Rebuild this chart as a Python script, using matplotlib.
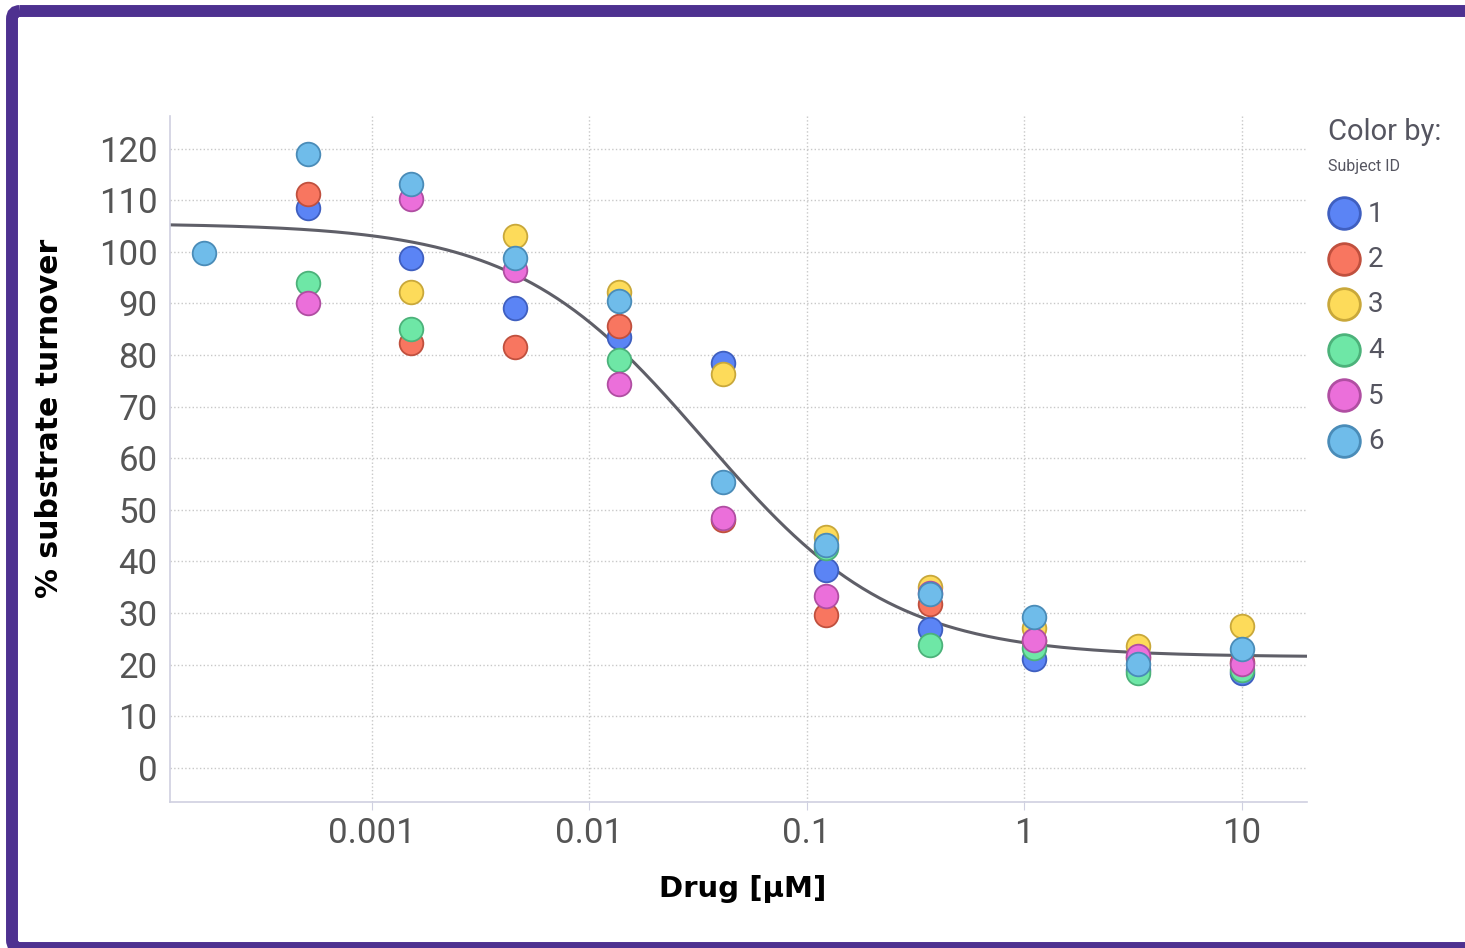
import numpy as np
import matplotlib.pyplot as plt
from matplotlib.patches import FancyBboxPatch

# drug concentrations (uM), 3-fold dilution series
conc = [0.000169, 0.000508, 0.00152, 0.00457, 0.0137, 0.0412, 0.123, 0.370, 1.11, 3.33, 10.0]

# % substrate turnover per subject (nan = not shown)
nan = np.nan
subj1 = [nan, 108.4, 98.7, 89.2, 83.4, 78.5, 38.4, 27.0, 21.1, 19.0, 18.4]
subj2 = [nan, 111.2, 82.4, 81.6, 85.7, 48.1, 29.7, 31.8, 24.5, 21.3, 20.5]
subj3 = [nan, nan, 92.2, 103.0, 92.2, 76.4, 44.8, 35.1, 27.1, 23.6, 27.5]
subj4 = [nan, 94.0, 85.1, nan, 79.0, nan, 42.7, 23.8, 23.3, 18.4, 19.0]
subj5 = [nan, 90.0, 110.3, 96.5, 74.4, 48.5, 33.4, 33.9, 24.8, 21.6, 20.2]
subj6 = [99.8, 119.0, 113.2, 98.8, 90.4, 55.3, 43.2, 33.7, 29.3, 20.2, 23.1]

subject_ids = ['1', '2', '3', '4', '5', '6']
fills = ['#5b84f5', '#f87660', '#fddb5a', '#6ee7a6', '#eb6fda', '#6fbcea']
edges = ['#3f5fc0', '#c0503e', '#c9a83a', '#4cb27a', '#b04ea2', '#4a8cb8']

# 4-parameter logistic fit
top, bottom, ic50, hill = 105.5, 21.5, 0.034, 1.0

fig = plt.figure(figsize=(14.65, 9.48), dpi=100)
W, H = 1465, 948
ax = fig.add_axes([170 / W, 1 - 802 / H, (1307 - 170) / W, (802 - 116) / H])

xs = np.logspace(np.log10(0.000118), np.log10(20), 400)
ys = bottom + (top - bottom) / (1 + (xs / ic50) ** hill)
ax.plot(xs, ys, color='#5f5f68', lw=2.2, zorder=2)

for vals, fc, ec in zip([subj1, subj2, subj3, subj4, subj5, subj6], fills, edges):
    ax.scatter(conc, vals, s=290, c=fc, edgecolors=ec, linewidths=1.3, zorder=3)

ax.set_xscale('log')
ax.set_xlim(0.000118, 20)
ax.set_ylim(-6.6, 126.3)
ax.set_xticks([0.001, 0.01, 0.1, 1, 10], ['0.001', '0.01', '0.1', '1', '10'])
ax.xaxis.set_minor_locator(plt.NullLocator())
ax.set_yticks(range(0, 121, 10))
ax.grid(True, color='#c8c8c8', ls=':', lw=1)
ax.set_axisbelow(True)
for s in ['top', 'right']:
    ax.spines[s].set_visible(False)
for s in ['left', 'bottom']:
    ax.spines[s].set_color('#cfd0e0')
    ax.spines[s].set_linewidth(1.2)
ax.tick_params(axis='x', length=6, color='#cfd0e0', labelsize=25, labelcolor='#555555', pad=5)
ax.tick_params(axis='y', length=0, labelsize=25, labelcolor='#555555', pad=9)
for lab in ax.get_xticklabels() + ax.get_yticklabels():
    lab.set_family('Roboto')

ax.set_xlabel('Drug [μM]', fontsize=21, fontweight='bold')
ax.set_ylabel('% substrate turnover', fontsize=21.5, fontweight='bold')
ax.xaxis.set_label_coords((743 - 170) / 1137, (802 - 889) / 686)
ax.yaxis.set_label_coords((50 - 170) / 1137, (802 - 418) / 686)
ax.xaxis.label.set_va('center')
ax.yaxis.label.set_va('center')

# legend
fig.text(1328 / W, 1 - 132 / H, 'Color by:', fontsize=21, color='#555560', family='Roboto', va='center')
fig.text(1328 / W, 1 - 167 / H, 'Subject ID', fontsize=11.5, color='#555560', family='Roboto', va='center')
lax = fig.add_axes([0, 0, 1, 1], facecolor='none')
lax.set_xlim(0, W)
lax.set_ylim(H, 0)
lax.axis('off')
for i, (sid, fc, ec) in enumerate(zip(subject_ids, fills, edges)):
    yy = 213 + i * 45.5
    lax.scatter([1344], [yy], s=520, c=fc, edgecolors=ec, linewidths=2)
    lax.text(1368, yy + 1, sid, fontsize=20, color='#555560', family='Roboto', va='center')

# purple frame
frame = FancyBboxPatch((12, 11), 1480, 937, boxstyle='round,pad=0,rounding_size=8',
                       fill=False, ec='#4e3190', lw=8.6)
lax.add_patch(frame)

fig.savefig('out.png', dpi=100)
